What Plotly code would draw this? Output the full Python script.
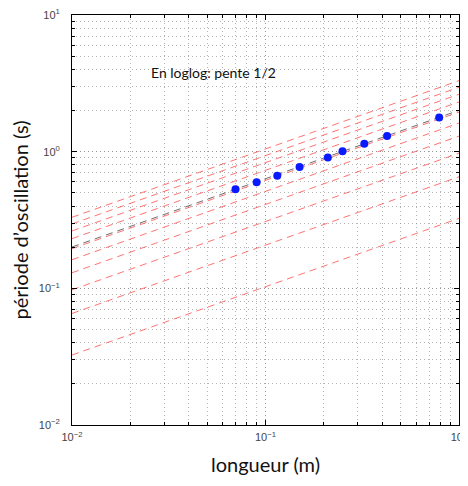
import numpy as np
import plotly.graph_objects as go

# Data
longueur = [0.070, 0.090, 0.115, 0.150, 0.210, 0.250, 0.324, 0.425, 0.79]
periode = [0.530, 0.597, 0.666, 0.772, 0.908, 1.005, 1.142, 1.30, 1.78]

# Coefficients of the reference lines T = c * sqrt(L) (slope 1/2 in loglog)
red_coeffs = [0.325, 0.655, 0.975, 1.30, 1.62, 1.95, 2.31, 2.63, 2.96, 3.31]
black_coeff = 2.006
line_L = [0.01, 1.0]

x_tickvals = [0.01, 0.1, 1]
x_ticktext = ["10<sup>−2</sup>", "10<sup>−1</sup>", "10<sup>0</sup>"]
y_tickvals = [0.01, 0.1, 1, 10]
y_ticktext = ["10<sup>−2</sup>", "10<sup>−1</sup>", "10<sup>0</sup>", "10<sup>1</sup>"]

fig = go.Figure()
Lx = np.array(line_L)
for c in red_coeffs:
    fig.add_trace(go.Scatter(x=Lx, y=c * np.sqrt(Lx), mode="lines",
                             line=dict(color="rgba(255,80,80,0.8)", width=1, dash="7px,5px"),
                             showlegend=False, hoverinfo="skip"))
fig.add_trace(go.Scatter(x=Lx, y=black_coeff * np.sqrt(Lx), mode="lines",
                         line=dict(color="rgba(60,60,60,0.75)", width=1, dash="7px,5px"),
                         showlegend=False, hoverinfo="skip"))
fig.add_trace(go.Scatter(x=longueur, y=periode, mode="markers",
                         marker=dict(color="#0a1aff", size=8),
                         showlegend=False))

fig.add_annotation(x=np.log10(0.0536), y=np.log10(3.82), text="En loglog: pente 1/2",
                   showarrow=False, font=dict(family="Lato, sans-serif", size=14, color="#111"))

grid_col = "rgba(120,120,120,0.55)"
axis_common = dict(
    type="log", showline=True, linecolor="black", linewidth=1, mirror="allticks",
    ticks="inside", ticklen=5, tickcolor="black",
    showgrid=True, gridcolor=grid_col, griddash="1px,3px", gridwidth=1,
    zeroline=False, automargin=False, ticklabeloverflow="allow",
    tickfont=dict(family="Liberation Sans, Arial", size=11, color="#444"),
    minor=dict(dtick="D1", showgrid=True, gridcolor=grid_col, griddash="1px,3px",
               ticks="inside", ticklen=3, tickcolor="black"),
)

fig.update_xaxes(**axis_common, range=[-2, 0], tickvals=x_tickvals, ticktext=x_ticktext,
                 ticklabelstandoff=2,
                 title=dict(text="longueur (m)", font=dict(family="Lato, sans-serif", size=20, color="#111"),
                            standoff=15))
fig.update_yaxes(**axis_common, range=[-2, 1], tickvals=y_tickvals, ticktext=y_ticktext,
                 ticklabelstandoff=9,
                 title=dict(text="période d’oscillation (s)", font=dict(family="Lato, sans-serif", size=20, color="#111"),
                            standoff=16))

fig.update_layout(width=468, height=486, margin=dict(l=64, r=17, t=7, b=69),
                  plot_bgcolor="white", paper_bgcolor="white")

fig.write_html("out.html")
